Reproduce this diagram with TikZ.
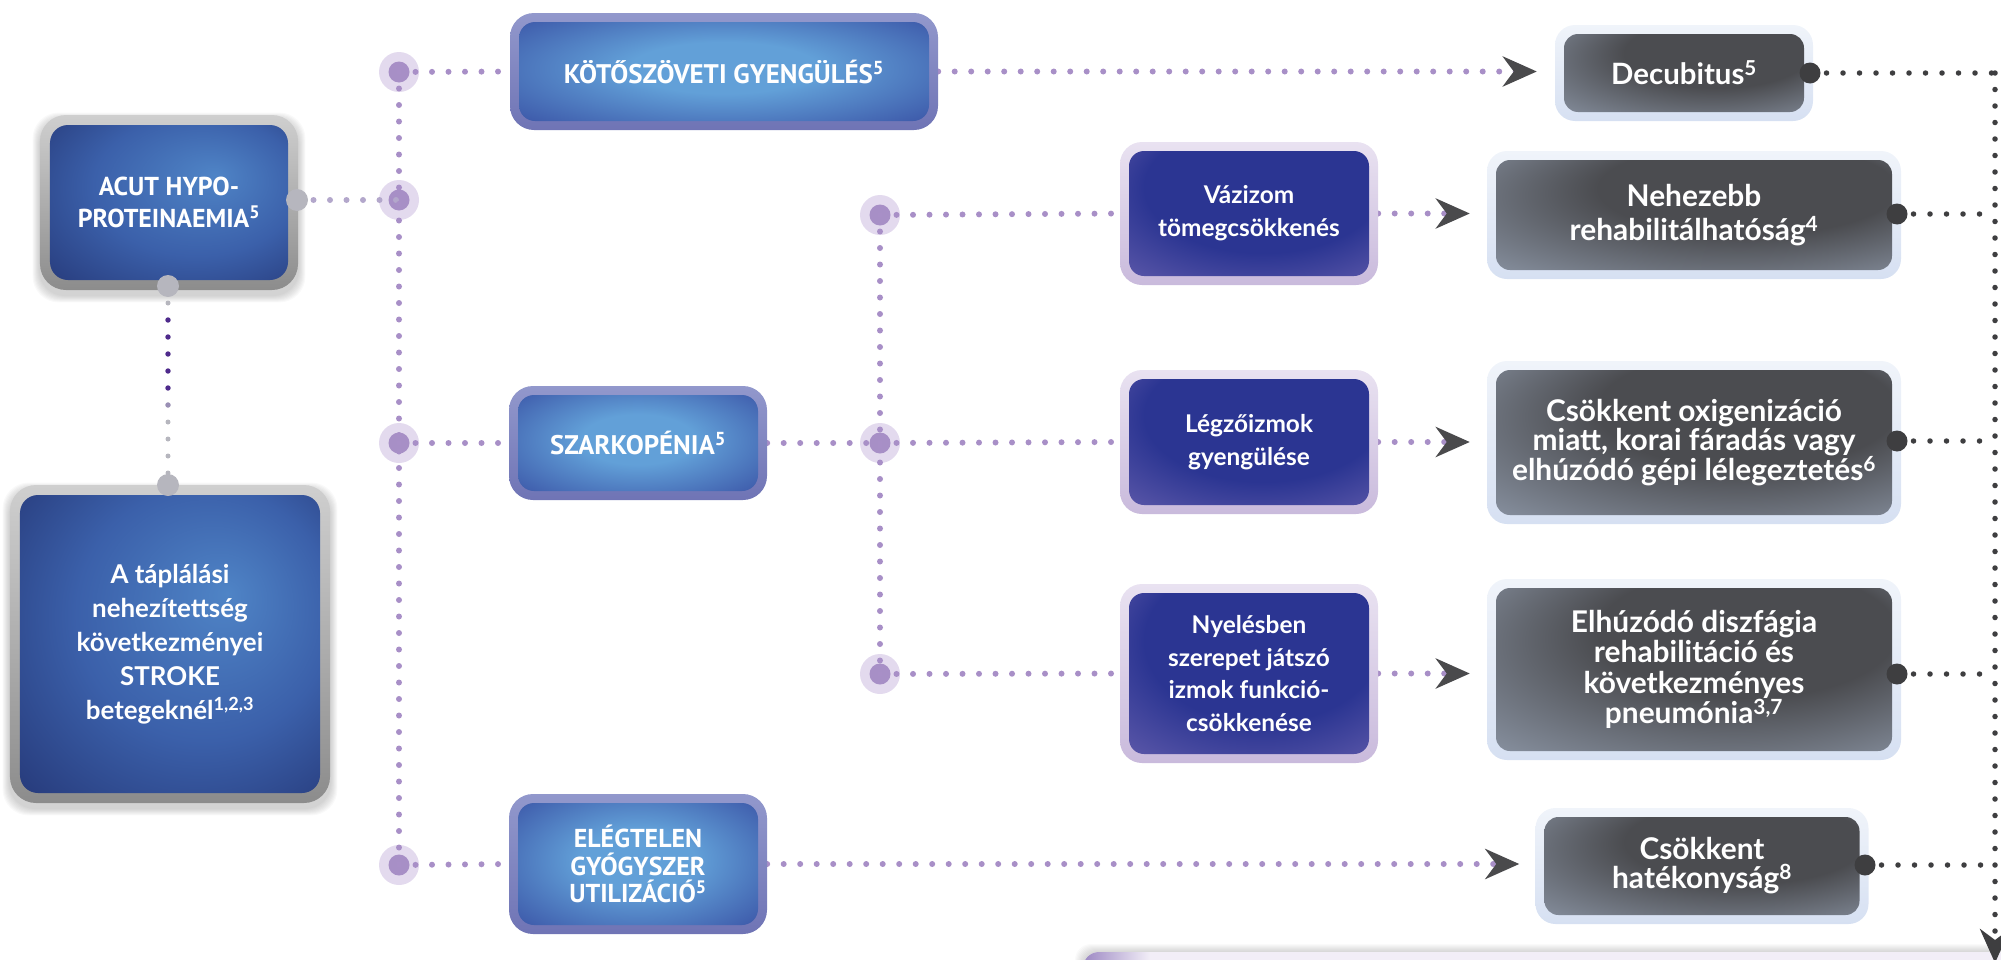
\documentclass[tikz,border=0pt]{standalone}
\usepackage{fontspec}
\setmainfont{Lato}
\newfontfamily\ptsans{PT Sans}
\usetikzlibrary{calc,arrows.meta}
\definecolor{dotp}{HTML}{A88FC7}
\definecolor{dotpl}{HTML}{B3A7CB}
\definecolor{jlight}{HTML}{E3DAEE}
\definecolor{jdark}{HTML}{A78FC6}
\definecolor{arrowc}{HTML}{4A4A4C}
\definecolor{darkdot}{HTML}{3E3E40}
\definecolor{portg}{HTML}{B6B6BE}
\definecolor{vdark}{HTML}{4E2A8C}
\definecolor{vmid}{HTML}{9A8FB5}
\definecolor{bfrA}{HTML}{9298CC}
\definecolor{bfrB}{HTML}{6F74B5}
\definecolor{binA}{HTML}{62A0D8}
\definecolor{binB}{HTML}{3F5DAC}
\definecolor{nfrA}{HTML}{CFCFCF}
\definecolor{nfrB}{HTML}{8C8C8C}
\definecolor{ninA}{HTML}{4F84C6}
\definecolor{ninB}{HTML}{3B60AA}
\definecolor{ninC}{HTML}{1E2A66}
\definecolor{pfrA}{HTML}{E9E2F1}
\definecolor{pfrB}{HTML}{C9BADC}
\definecolor{pinA}{HTML}{2B3592}
\definecolor{pinB}{HTML}{7066B2}
\definecolor{gfrA}{HTML}{F0F4FA}
\definecolor{gfrB}{HTML}{D6E0F2}
\definecolor{ginA}{HTML}{4B4C50}
\definecolor{ginB}{HTML}{8E98A8}
\definecolor{barpur}{HTML}{9C88C3}
\definecolor{barlav}{HTML}{F2EEF7}
\pgfdeclareradialshading{bluein}{\pgfpoint{0bp}{2bp}}{color(0bp)=(binA); color(11bp)=(binA); color(31bp)=(binB); color(50bp)=(binB)}
\pgfdeclareradialshading{navyin}{\pgfpoint{9bp}{8bp}}{color(0bp)=(ninA); color(20bp)=(ninB); color(44bp)=(ninC); color(50bp)=(ninC)}
\pgfdeclareradialshading{purpin}{\pgfpoint{5bp}{17bp}}{color(0bp)=(pinA); color(23bp)=(pinA); color(43bp)=(pinB); color(50bp)=(pinB)}
\pgfdeclareradialshading{grayin}{\pgfpoint{10bp}{16bp}}{color(0bp)=(ginA); color(18bp)=(ginA); color(40bp)=(ginB); color(50bp)=(ginB)}
\pgfdeclarelayer{junc}
\pgfdeclarelayer{conn}
\pgfsetlayers{junc,conn,main}
\tikzset{
  frame/.style={rounded corners=#1, inner sep=0pt, align=center, text=white},
  inbox/.style n args={3}{path picture={\shade[shading=#1, rounded corners=#3]
     ($(path picture bounding box.north west)+(#2,#2)$) rectangle ($(path picture bounding box.south east)+(-#2,-#2)$);}},
  bluebox/.style={frame=24bp, top color=bfrA, bottom color=bfrB, inbox={bluein}{9}{16bp},
     font=\ptsans\bfseries\fontsize{27}{29}\selectfont},
  navybox/.style={frame=26bp, top color=nfrA, bottom color=nfrB, inbox={navyin}{10}{18bp}},
  purpbox/.style={frame=22bp, top color=pfrA, bottom color=pfrB, inbox={purpin}{9}{15bp},
     font=\bfseries\fontsize{24.5}{33}\selectfont},
  graybox/.style={frame=20bp, top color=gfrA, bottom color=gfrB, inbox={grayin}{9}{14bp}},
  pdots/.style={draw=dotp, line width=6bp, line cap=round, dash pattern=on 0pt off 16.5bp},
  ddots/.style={draw=darkdot, line width=5.5bp, line cap=round, dash pattern=on 0pt off 16.5bp},
  tipp/.style={-{Stealth[length=34bp,width=30bp,inset=11bp,color=arrowc]}},
  junction/.style={circle, minimum size=40bp, inner sep=0pt, fill=jlight,
     path picture={\fill[jdark] (path picture bounding box.center) circle (10.5bp);}},
  port/.style={circle, minimum size=22bp, inner sep=0pt, fill=portg},
  dport/.style={circle, minimum size=21bp, inner sep=0pt, fill=darkdot},
}
\newcommand\softshadow[2]{%
  \foreach \k in {1,...,8}{
    \fill[black, opacity=0.022, rounded corners=#2] ($(#1.north west)+(-\k*0.9,-\k*0.9+5)$) rectangle ($(#1.south east)+(\k*0.9,\k*0.9+5)$);
  }}
\begin{document}
\begin{tikzpicture}[x=1bp,y=-1bp]
\useasboundingbox (0,0) rectangle (2001,960);
\clip (0,0) rectangle (2001,960);
% ---------- boxes ----------
\node[navybox, minimum width=258bp, minimum height=175bp, font=\ptsans\bfseries\fontsize{26}{32}\selectfont] (acut) at (169,202.5) {ACUT HYPO-\\PROTEINAEMIA\textsuperscript{5}};
\node[navybox, minimum width=320bp, minimum height=318bp, font=\bfseries\fontsize{26}{34}\selectfont] (big) at (170,644) {A táplálási\\nehezítettség\\következményei\\STROKE\\betegeknél\textsuperscript{1,2,3}};
\node[bluebox, minimum width=428bp, minimum height=117bp] (koto) at (724,71.5) {KÖTŐSZÖVETI GYENGÜLÉS\textsuperscript{5}};
\node[bluebox, minimum width=258bp, minimum height=114bp] (szark) at (638,443) {SZARKOPÉNIA\textsuperscript{5}};
\node[bluebox, minimum width=258bp, minimum height=140bp, font=\ptsans\bfseries\fontsize{26}{28}\selectfont] (eleg) at (638,864) {ELÉGTELEN\\GYÓGYSZER\\UTILIZÁCIÓ\textsuperscript{5}};
\node[purpbox, minimum width=258bp, minimum height=143bp] (vaz) at (1249,213.5) {Vázizom\\tömegcsökkenés};
\node[purpbox, minimum width=258bp, minimum height=144bp] (legz) at (1249,442) {Légzőizmok\\gyengülése};
\node[purpbox, minimum width=258bp, minimum height=179bp] (nyel) at (1249,673.5) {Nyelésben\\szerepet játszó\\izmok funkció-\\csökkenése};
\node[graybox, minimum width=258bp, minimum height=96bp, font=\bfseries\fontsize{29.5}{34}\selectfont] (decub) at (1684,73) {Decubitus\textsuperscript{5}};
\node[graybox, minimum width=414bp, minimum height=128bp, font=\bfseries\fontsize{30}{34}\selectfont] (neh) at (1694,215) {Nehezebb\\rehabilitálhatóság\textsuperscript{4}};
\node[graybox, minimum width=414bp, minimum height=163bp, font=\bfseries\fontsize{30}{30}\selectfont] (csox) at (1694,442.5) {Csökkent oxigenizáció\\miatt, korai fáradás vagy\\elhúzódó gépi lélegeztetés\textsuperscript{6}};
\node[graybox, minimum width=414bp, minimum height=181bp, font=\bfseries\fontsize{30}{30.5}\selectfont] (elhuz) at (1694,669.5) {Elhúzódó diszfágia\\rehabilitáció és\\következményes\\pneumónia\textsuperscript{3,7}};
\node[graybox, minimum width=333bp, minimum height=116bp, font=\bfseries\fontsize{30}{29}\selectfont] (cshat) at (1702,866) {Csökkent\\hatékonyság\textsuperscript{8}};
% ---------- ports ----------
\node[port] (acutR) at (297,200) {};
\node[port] (acutB) at (168,286) {};
\node[port] (bigT) at (168,485) {};
\node[dport] (decR) at (1810,73) {};
\node[dport] (nehR) at (1897,214) {};
\node[dport] (csoxR) at (1897,441) {};
\node[dport] (elhR) at (1897,674) {};
\node[dport] (cshR) at (1865,865) {};
\coordinate (rx) at (1995,0);
\coordinate (rend) at (1995,963);
% ---------- junctions and shadows ----------
\begin{pgfonlayer}{junc}
\softshadow{acut}{26bp}
\softshadow{big}{26bp}
\foreach \k in {1,...,8}{\fill[black, opacity=0.02, rounded corners=16bp] (1083-\k,952-\k) rectangle (2100,1010);}
\begin{scope}
\clip[rounded corners=16bp] (1083,952) rectangle (2100,1010);
\fill[barlav] (1083,952) rectangle (2100,1010);
\shade[left color=barpur, right color=barlav] (1083,952) rectangle (1150,1010);
\end{scope}
\node[junction] (j1) at (399,72) {};
\node[junction] (j2) at (399,200) {};
\node[junction] (j3) at (399,443) {};
\node[junction] (j4) at (399,865) {};
\node[junction] (m1) at (880,215) {};
\node[junction] (m2) at (880,443) {};
\node[junction] (m3) at (880,674) {};
\end{pgfonlayer}
% ---------- connectors ----------
\begin{pgfonlayer}{conn}
\draw[pdots, draw=dotpl] (acutR.center) -- (j2.center);
\draw[draw=portg, line width=5bp, line cap=round, dash pattern=on 0pt off 17bp] (acutB.center) -- (bigT.center);
\foreach \yy in {320,337,354,371,388}{\fill[vdark] (168,\yy) circle (2.7bp);}
\fill[vmid] (168,405) circle (2.7bp);
\draw[pdots] (j1.center) -- (j4.center);
\draw[pdots] (j1.center) -- (koto.west);
\draw[pdots] (j3.center) -- (szark.west);
\draw[pdots] (j4.center) -- (eleg.west);
\draw[pdots] (szark.east) -- (m2.center);
\draw[pdots] (m1.center) -- (m3.center);
\draw[pdots] (m1.center) -- (vaz.west);
\draw[pdots] (m2.center) -- (legz.west);
\draw[pdots] (m3.center) -- (nyel.west);
\draw[pdots, tipp] (koto.east) -- ($(koto.east -| decub.west)+(-18,0)$);
\draw[pdots, tipp] (vaz.east) -- ($(vaz.east -| neh.west)+(-17,0)$);
\draw[pdots, tipp] (legz.east) -- ($(legz.east -| csox.west)+(-17,0)$);
\draw[pdots, tipp] (nyel.east) -- ($(nyel.east -| elhuz.west)+(-17,0)$);
\draw[pdots, tipp] (eleg.east) -- ($(eleg.east -| cshat.west)+(-16,0)$);
\draw[ddots] (decR.center) -- (decR -| rx);
\draw[ddots] (nehR.center) -- (nehR -| rx);
\draw[ddots] (csoxR.center) -- (csoxR -| rx);
\draw[ddots] (elhR.center) -- (elhR -| rx);
\draw[ddots] (cshR.center) -- (cshR -| rx);
\draw[ddots, -{Stealth[length=34bp,width=30bp,inset=11bp,color=darkdot]}] (decR -| rx) -- (rend);
\end{pgfonlayer}
\end{tikzpicture}
\end{document}
